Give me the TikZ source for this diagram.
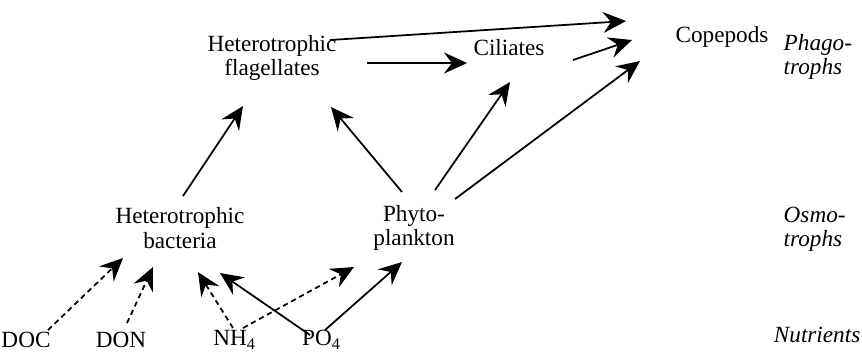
\documentclass[tikz,border=0pt]{standalone}
\usepackage{fontspec}
\setmainfont{Liberation Serif}
\usepackage{tikz}
\usetikzlibrary{calc, arrows.meta}

\begin{document}
\begin{tikzpicture}[x=0.01cm, y=-0.01cm,
    organism/.style={align=center, inner sep=0pt, font=\fontsize{6.6}{6.9}\selectfont},
    level/.style={align=left, anchor=west, inner sep=0pt, font=\fontsize{6.6}{6.9}\selectfont\itshape},
    flow/.style={-{Stealth[length=2.3mm, width=2.1mm, inset=0.8mm]}, line width=0.5pt},
    leak/.style={flow, dash pattern=on 1.5pt off 1.1pt}]

    \useasboundingbox (0,0) rectangle (862,353);

    \node[organism] (flag) at (272,58) {Heterotrophic\\flagellates};
    \node[organism] (cil) at (509,48) {Ciliates};
    \node[organism] (cope) at (722,37) {Copepods};
    \node[organism] (bact) at (180,228) {Heterotrophic\\bacteria};
    \node[organism] (phyto) at (414,228) {Phyto-\\plankton};
    \node[organism] (doc) at (26,340) {DOC};
    \node[organism] (don) at (121,340) {DON};
    \node[organism] (nh) at (235,340) {NH\textsubscript{4}};
    \node[organism] (po) at (322,340) {PO\textsubscript{4}};

    \node[level] (phago) at (783,57) {Phago-\\trophs};
    \node[level] (osmo) at (783,229) {Osmo-\\trophs};
    \node[level, anchor=east] (nutr) at (861,335) {Nutrients};

    % grazers
    \draw[flow] ($(flag)+(58,-18)$) -- ($(cope)+(-96,-16)$);
    \draw[flow] ($(flag)+(95,5)$) -- ($(cil)+(-42,15)$);
    \draw[flow] ($(cil)+(64,12)$) -- ($(cope)+(-90,3)$);
    \draw[flow] ($(phyto)+(41,-29)$) -- ($(cope)+(-82,24)$);
    \draw[flow] ($(phyto)+(21,-38)$) -- ($(cil)+(1,34)$);
    \draw[flow] ($(phyto)+(-12,-36)$) -- ($(flag)+(59,49)$);
    \draw[flow] ($(bact)+(3,-32)$) -- ($(flag)+(-29,48)$);

    % uptake of nutrients
    \draw[leak] ($(doc)+(22,-10)$) -- ($(bact)+(-57,30)$);
    \draw[leak] ($(don)+(6,-17)$) -- ($(bact)+(-27,39)$);
    \draw[leak] ($(nh)+(-2,-12)$) -- ($(bact)+(18,44)$);
    \draw[leak] ($(nh)+(8,-12)$) -- ($(phyto)+(-60,39)$);
    \draw[flow] ($(po)+(-12,-5)$) -- ($(bact)+(40,45)$);
    \draw[flow] ($(po)+(3,-10)$) -- ($(phyto)+(-12,34)$);
\end{tikzpicture}
\end{document}
